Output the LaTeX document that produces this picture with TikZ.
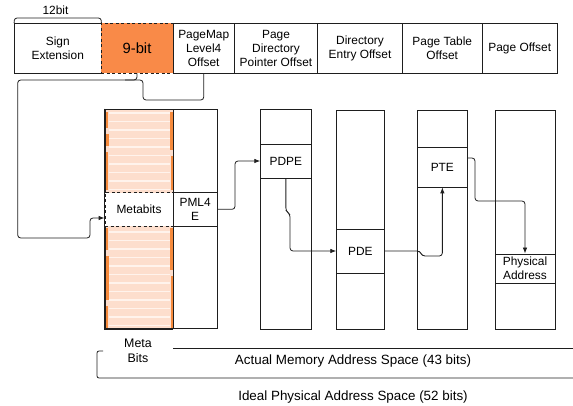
\documentclass[tikz,border=0pt]{standalone}
\usepackage{fontspec}
\setmainfont{Liberation Sans}
\usetikzlibrary{arrows.meta}
\definecolor{nineor}{RGB}{249,138,72}
\definecolor{lightor}{RGB}{253,222,205}
\definecolor{edgeor}{RGB}{246,138,60}
\definecolor{stripe}{RGB}{255,243,236}
\definecolor{lineclr}{RGB}{30,30,30}
\tikzset{
 box/.style={draw=lineclr, line width=0.8pt, inner sep=0pt, align=center, font=\fontsize{11.9}{13.8}\selectfont},
 col/.style={draw=lineclr, line width=0.8pt, inner sep=0pt},
 conn/.style={draw=lineclr, line width=0.8pt, rounded corners=3pt},
 arr/.style={conn, -{Latex[length=6pt,width=4.5pt]}},
 lbl/.style={inner sep=0pt, align=center, font=\fontsize{11.9}{13.8}\selectfont},
 biglbl/.style={inner sep=0pt, align=center, font=\fontsize{13.4}{15}\selectfont},
 dsh/.style={dash pattern=on 3pt off 2.5pt},
}
\begin{document}
\begin{tikzpicture}[x=1pt,y=-1pt]
\useasboundingbox (0,0) rectangle (573,406);

% ---- top row ----
\node[box, minimum width=86.5, minimum height=49.5] (topse) at (57.75,48.25) {Sign\\Extension};
\node[box, minimum width=61.5, minimum height=49.5] (toppm) at (203.75,48.25) {PageMap\\Level4\\Offset};
\node[box, minimum width=83, minimum height=49.5] (toppdp) at (276,48.25) {Page\\Directory\\Pointer Offset};
\node[box, minimum width=85, minimum height=49.5] (topde) at (360,48.25) {Directory\\Entry Offset};
\node[box, minimum width=79.5, minimum height=49.5] (toppt) at (442.25,48.25) {Page Table\\Offset};
\node[box, minimum width=75.5, minimum height=49.5] (topo) at (519.75,48.25) {Page Offset};
\node[box, fill=nineor, dsh, minimum width=72, minimum height=49.5, font=\fontsize{14.8}{16}\selectfont] (topnine) at (137,48.25) {9-bit};

% 12bit brace
\draw[draw=lineclr, line width=0.8pt, rounded corners=2.5pt] (topse.north west) -- (14.5,18) -- (101,18) -- (topse.north east);
\node[lbl] (lbl12) at (55.5,10) {12bit};

% ---- meta column with stripes ----
\fill[lightor] (105,109) rectangle (173,328.5);
\foreach \yy in {113,121.5,...,326} \draw[stripe, line width=1.2pt] (108.5,\yy) -- (169.5,\yy);
\fill[edgeor] (105.5,112) rectangle (107.8,128);
\fill[edgeor] (105.5,134) rectangle (108.5,146);
\fill[edgeor] (105.5,152) rectangle (107.5,190);
\fill[edgeor] (105.5,228) rectangle (107.8,250);
\fill[edgeor] (105.5,256) rectangle (108.5,300);
\fill[edgeor] (105.5,306) rectangle (107.8,328);
\fill[edgeor] (170,112) rectangle (172.5,150);
\fill[edgeor] (170.8,156) rectangle (172.5,190);
\fill[edgeor] (170,228) rectangle (172.5,270);
\fill[edgeor] (170.8,276) rectangle (172.5,328);
\node[col, minimum width=68, minimum height=219.5] (colmeta) at (139,218.75) {};
\draw[draw=lineclr, line width=1.4pt] (colmeta.north west) -- (colmeta.south west) -- (colmeta.south east);

% ---- other columns ----
\node[col, minimum width=44.3, minimum height=219.5] (colpml) at (195.15,218.75) {};
\node[col, minimum width=50.3, minimum height=220] (colpdpe) at (285.85,219) {};
\node[col, minimum width=47.3, minimum height=219] (colpde) at (360.35,219.5) {};
\node[col, minimum width=50.7, minimum height=219] (colpte) at (442.35,219.5) {};
\node[col, minimum width=60, minimum height=219] (colphys) at (525,219.5) {};

% ---- entry boxes ----
\node[box, fill=white, dsh, minimum width=68, minimum height=33.3] (metab) at (139,209.35) {Metabits};
\node[box, fill=white, minimum width=44.3, minimum height=33.3] (pml4e) at (195.15,209.35) {PML4\\E};
\node[box, fill=white, minimum width=50.3, minimum height=34] (pdpe) at (285.85,161) {PDPE};
\node[box, fill=white, minimum width=47.3, minimum height=44] (pde) at (360.35,251) {PDE};
\node[box, fill=white, minimum width=50.7, minimum height=40] (pte) at (442.35,167) {PTE};
\node[box, fill=white, minimum width=60, minimum height=29] (phys) at (525,268.5) {Physical\\Address};

% ---- connectors ----
\draw[arr] (toppm.south) -- (203.75,100) -- (143,100) -- (143,80) -- (17.7,80) -- (17.7,238) -- (90,238) -- (90,218) -- (metab.west |- 0,218);
\draw[conn] (topnine.south) |- (125,80);
\draw[arr] (pml4e.east) -- (235,209.35) -- (235,161) -- (pdpe.west);
\draw[arr] (pdpe.south) -- (285.85,211) -- (290,214) -- (290,251) -- (pde.west);
\draw[arr] (pde.east) -- (420,251) -- (422,256) -- (442.35,256) -- (pte.south);
\draw[arr] (pte.east |- 0,158) -- (475,158) -- (475,201) -- (525,201) -- (phys.north);

% ---- bottom ----
\node[lbl, font=\fontsize{12.4}{15}\selectfont] (metabits) at (138,351) {Meta\\Bits};
\coordinate (actL) at (173,348);
\coordinate (actR) at (573,348);
\draw[draw=lineclr, line width=0.8pt] (actL) -- (actR);
\coordinate (brA) at (103,351);
\coordinate (brB) at (573,378);
\draw[draw=lineclr, line width=0.8pt, rounded corners=2pt] (brA) -- (97,351) -- (97,378) -- (brB);
\node[biglbl] (actual) at (353,361) {Actual Memory Address Space (43 bits)};
\node[biglbl] (ideal) at (353,397) {Ideal Physical Address Space (52 bits)};
\end{tikzpicture}
\end{document}
